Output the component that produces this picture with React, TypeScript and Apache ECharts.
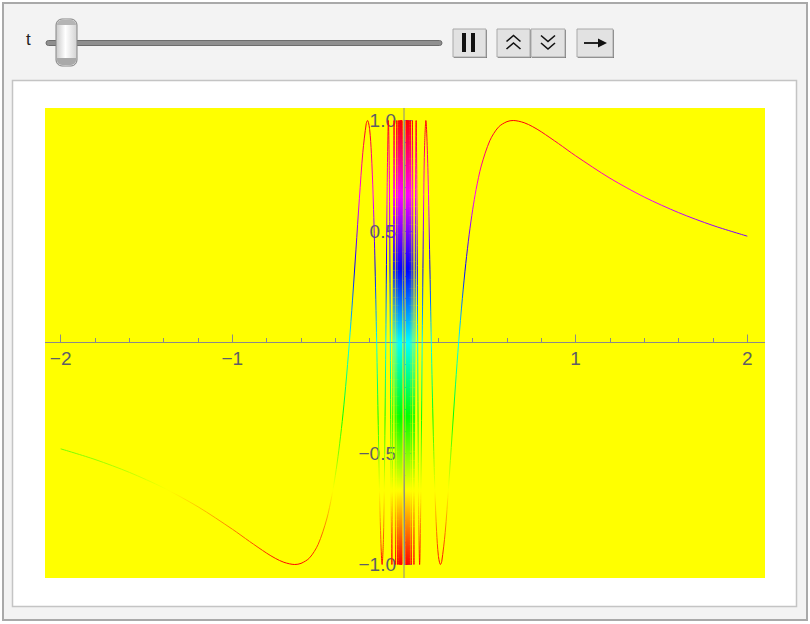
import React, { useEffect, useRef } from "react";
import * as echarts from "echarts";

// Curve values: left branch (x ascending)
const negX = [
  -2.0, -1.8, -1.6, -1.4, -1.2, -1.0, -0.9, -0.8, -0.75, -0.7, -0.63662, -0.6, -0.55, -0.5, -0.45, -0.42, -0.4,
  -0.38, -0.36, -0.34, -0.31831, -0.3, -0.28, -0.26, -0.24, -0.22, -0.21221, -0.2, -0.19, -0.18, -0.17, -0.15915,
  -0.15, -0.14, -0.12732, -0.12, -0.115, -0.1061, -0.098, -0.09095, -0.085, -0.07958, -0.075, -0.07074, -0.06366,
  -0.05787, -0.05305, -0.04897, -0.04547, -0.04244, -0.03979, -0.03745, -0.03537, -0.03351, -0.03183, -0.03032,
  -0.02894, -0.02768, -0.02653, -0.02546, -0.02358, -0.02195, -0.02054, -0.01929, -0.01819, -0.01721, -0.01632,
  -0.01553, -0.01481, -0.01415, -0.01355, -0.01299, -0.01248,
];
const negY = [
  -0.479, -0.527, -0.585, -0.655, -0.74, -0.841, -0.896, -0.949, -0.972, -0.99, -1, -0.995, -0.97, -0.909, -0.795,
  -0.689, -0.598, -0.488, -0.356, -0.199, 0, 0.191, 0.417, 0.648, 0.855, 0.986, 1, 0.959, 0.852, 0.665, 0.39, 0,
  -0.374, -0.758, -1, -0.887, -0.666, 0, 0.703, 1, 0.718, 0, -0.694, -1, 0, 1, 0, -1, 0, 1, 0, -1, 0, 1, 0, -1, 0,
  1, 0, -1, 1, -1, 1, -1, 1, -1, 1, -1, 1, -1, 1, -1, 1,
];
// right branch (x ascending)
const posX = [
  0.01248, 0.01299, 0.01355, 0.01415, 0.01481, 0.01553, 0.01632, 0.01721, 0.01819, 0.01929, 0.02054, 0.02195,
  0.02358, 0.02546, 0.02653, 0.02768, 0.02894, 0.03032, 0.03183, 0.03351, 0.03537, 0.03745, 0.03979, 0.04244,
  0.04547, 0.04897, 0.05305, 0.05787, 0.06366, 0.07074, 0.075, 0.07958, 0.085, 0.09095, 0.098, 0.1061, 0.115, 0.12,
  0.12732, 0.14, 0.15, 0.15915, 0.17, 0.18, 0.19, 0.2, 0.21221, 0.22, 0.24, 0.26, 0.28, 0.3, 0.31831, 0.34, 0.36,
  0.38, 0.4, 0.42, 0.45, 0.5, 0.55, 0.6, 0.63662, 0.7, 0.75, 0.8, 0.9, 1.0, 1.2, 1.4, 1.6, 1.8, 2.0,
];
const posY = [
  -1, 1, -1, 1, -1, 1, -1, 1, -1, 1, -1, 1, -1, 1, 0, -1, 0, 1, 0, -1, 0, 1, 0, -1, 0, 1, 0, -1, 0, 1, 0.694, 0,
  -0.718, -1, -0.703, 0, 0.666, 0.887, 1, 0.758, 0.374, 0, -0.39, -0.665, -0.852, -0.959, -1, -0.986, -0.855,
  -0.648, -0.417, -0.191, 0, 0.199, 0.356, 0.488, 0.598, 0.689, 0.795, 0.909, 0.97, 0.995, 1, 0.99, 0.972, 0.949,
  0.896, 0.841, 0.74, 0.655, 0.585, 0.527, 0.479,
];
// Hue scale used for the line colour (by y value, -1 .. 1)
const hueColors = ["#ff0000", "#ffff00", "#00ff00", "#00ffff", "#0000ff", "#ff00ff", "#ff0000"];

const AXIS = "#8a8a8a";
const LABEL = "#5e5e66";
const FONT = "Liberation Sans, Arial, sans-serif";

const fmt = (v: number, digits: number) => {
  if (Math.abs(v) < 1e-9) return "";
  const s = Math.abs(v).toFixed(digits);
  return v < 0 ? "\u2212" + s : s;
};

export default function App() {
  const ref = useRef<HTMLDivElement>(null);
  useEffect(() => {
    if (!ref.current) return;
    const chart = echarts.init(ref.current, undefined, { renderer: "svg" });
    const data = [
      ...negX.map((x, i) => [x, negY[i]]),
      ...posX.map((x, i) => [x, posY[i]]),
    ];
    const W = 810, H = 624;
    const grid = { left: 60.7, right: 62.7, top: 120.5, bottom: 59.5 };
    chart.setOption({
      animation: false,
      grid: { ...grid, containLabel: false, show: false },
      visualMap: {
        show: false,
        type: "continuous",
        dimension: 1,
        seriesIndex: 0,
        min: -1,
        max: 1,
        inRange: { color: hueColors },
      },
      xAxis: {
        type: "value",
        min: -2,
        max: 2,
        interval: 1,
        position: "bottom",
        axisLine: { show: true, onZero: false, lineStyle: { color: AXIS, width: 1 } },
        axisTick: { show: true, inside: true, length: 8, lineStyle: { color: AXIS } },
        minorTick: { show: true, splitNumber: 5, length: 4.5, lineStyle: { color: AXIS } },
        splitLine: { show: false },
        minorSplitLine: { show: false },
        axisLabel: {
          color: LABEL,
          fontSize: 19,
          fontFamily: FONT,
          margin: 6,
          formatter: (v: number) => fmt(v, 0),
        },
      },
      yAxis: {
        type: "value",
        min: -1,
        max: 1,
        interval: 0.5,
        position: "left",
        axisLine: { show: true, onZero: false, lineStyle: { color: AXIS, width: 1 } },
        axisTick: { show: true, inside: true, length: 8, lineStyle: { color: AXIS } },
        minorTick: { show: true, splitNumber: 5, length: 4.5, lineStyle: { color: AXIS } },
        splitLine: { show: false },
        minorSplitLine: { show: false },
        axisLabel: {
          color: LABEL,
          fontSize: 19,
          fontFamily: FONT,
          margin: 8,
          formatter: (v: number) => fmt(v, 1),
        },
      },
      series: [
        {
          type: "line",
          data,
          smooth: 0.3,
          symbol: "none",
          clip: false,
          lineStyle: { width: 1 },
          z: 3,
        },
      ],
    });

    const p0 = chart.convertToPixel({ gridIndex: 0 }, [0, 0]) as number[];
    const x0 = p0[0];
    const y0 = p0[1];

    // move the axes onto the origin lines
    chart.setOption({
      xAxis: { offset: -(H - grid.bottom - y0) },
      yAxis: { offset: -(x0 - grid.left) },
    });

    const plotL = 45, plotT = 108, plotW = 720, plotH = 470;

    const btn = (x: number, y: number, w: number, h: number) => [
      { type: "rect", shape: { x: x + 1, y: y + 1, width: w, height: h }, style: { fill: "#7a7a7a" }, z: 5 },
      {
        type: "rect",
        shape: { x, y, width: w, height: h },
        style: { fill: "#e2e2e2", stroke: "#a8a8a8", lineWidth: 1 },
        z: 6,
      },
    ];
    const chevron = (cx: number, cy: number, up: boolean) => ({
      type: "polyline",
      shape: { points: up ? [[cx - 7, cy + 3], [cx, cy - 3], [cx + 7, cy + 3]] : [[cx - 7, cy - 3], [cx, cy + 3], [cx + 7, cy - 3]] },
      style: { stroke: "#111", lineWidth: 1.6, fill: null },
      z: 7,
    });

    chart.setOption({
      graphic: [
        // outer frame
        {
          type: "rect",
          shape: { x: 3, y: 3, width: 804, height: 617 },
          style: { fill: "#f3f3f3", stroke: "#a9a9a9", lineWidth: 2 },
          z: -5,
        },
        // inner panel
        {
          type: "rect",
          shape: { x: 12.5, y: 80.5, width: 784, height: 526 },
          style: { fill: "#ffffff", stroke: "#c4c4c4", lineWidth: 1.5 },
          z: -4,
        },
        // plot background
        {
          type: "rect",
          shape: { x: plotL, y: plotT, width: plotW, height: plotH },
          style: { fill: "#ffff00" },
          z: -3,
        },
        // axis line extensions to the full plot range
        {
          type: "line",
          shape: { x1: plotL, y1: y0, x2: plotL + plotW, y2: y0 },
          style: { stroke: AXIS, lineWidth: 1 },
          z: -2,
        },
        {
          type: "line",
          shape: { x1: x0, y1: plotT, x2: x0, y2: plotT + plotH },
          style: { stroke: AXIS, lineWidth: 1 },
          z: -2,
        },
        // slider label
        {
          type: "text",
          x: 26,
          y: 31,
          style: { text: "t", fontSize: 17, fontFamily: FONT, fill: "#222" },
          z: 5,
        },
        // slider track
        {
          type: "rect",
          shape: { x: 46, y: 40.5, width: 396, height: 5, r: 2.5 },
          style: { fill: "#8f8f8f", stroke: "#6c6c6c", lineWidth: 1 },
          z: 5,
        },
        // thumb
        {
          type: "rect",
          shape: { x: 56, y: 19, width: 21, height: 47, r: 6 },
          style: {
            fill: new echarts.graphic.LinearGradient(0, 0, 1, 0, [
              { offset: 0, color: "#c9c9c9" },
              { offset: 0.45, color: "#ffffff" },
              { offset: 1, color: "#d2d2d2" },
            ]),
            stroke: "#858585",
            lineWidth: 1,
          },
          z: 6,
        },
        { type: "rect", shape: { x: 57, y: 20, width: 19, height: 5, r: [5, 5, 0, 0] }, style: { fill: "#b5b5b5" }, z: 7 },
        { type: "rect", shape: { x: 57, y: 58, width: 19, height: 7, r: [0, 0, 5, 5] }, style: { fill: "#a9a9a9" }, z: 7 },
        // buttons
        ...btn(453, 29, 33, 28),
        { type: "rect", shape: { x: 462, y: 33, width: 4, height: 19 }, style: { fill: "#111" }, z: 7 },
        { type: "rect", shape: { x: 471, y: 33, width: 4, height: 19 }, style: { fill: "#111" }, z: 7 },
        ...btn(497, 29, 33, 28),
        chevron(513.5, 38.5, true),
        chevron(513.5, 46, true),
        ...btn(531, 29, 34, 28),
        chevron(548, 38.5, false),
        chevron(548, 46, false),
        ...btn(577, 29, 36, 28),
        {
          type: "line",
          shape: { x1: 584, y1: 43, x2: 603, y2: 43 },
          style: { stroke: "#111", lineWidth: 1.8 },
          z: 7,
        },
        {
          type: "polygon",
          shape: { points: [[598, 38.5], [607, 43], [598, 47.5]] },
          style: { fill: "#111" },
          z: 7,
        },
      ],
    });
    return () => chart.dispose();
  }, []);
  return (
    <div
      ref={ref}
      style={{ position: "absolute", left: 0, top: 0, width: 810, height: 624 }}
    />
  );
}
